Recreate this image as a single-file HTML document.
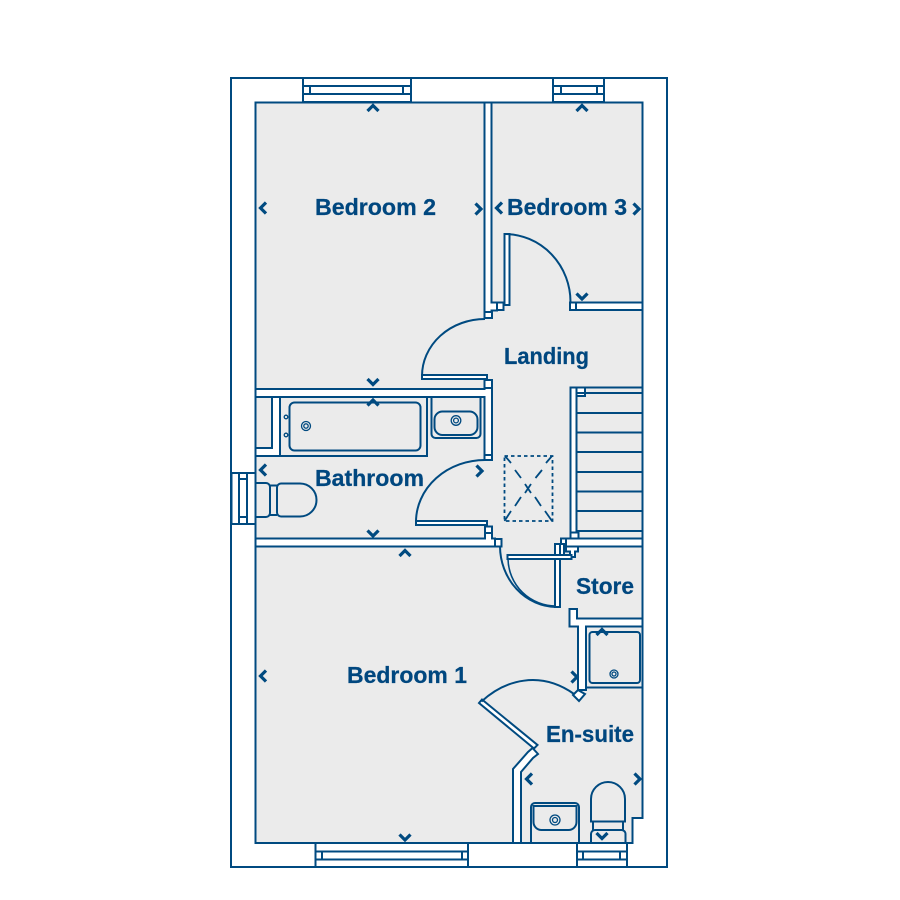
<!DOCTYPE html>
<html><head><meta charset="utf-8"><style>
html,body{margin:0;padding:0;background:#fff}
svg{display:block}
text{font-family:"Liberation Sans",sans-serif;font-weight:bold;font-size:23px;fill:#00477f;stroke:#00477f;stroke-width:.25px}
</style></head><body>
<svg width="900" height="900" viewBox="0 0 900 900" xmlns="http://www.w3.org/2000/svg">
<rect x="231" y="78" width="436" height="789" fill="#fff" stroke="#004a80" stroke-width="2"/>
<path d="M255.5 102.5H642.5V818H632.5V843H255.5Z" fill="#ebebeb" stroke="#004a80" stroke-width="2"/>
<g fill="#fff" stroke="#004a80" stroke-width="2">
<!-- windows -->
<rect x="303" y="78" width="108" height="24"/><rect x="303" y="86" width="108" height="8"/><rect x="310" y="86" width="93" height="8"/>
<rect x="553" y="78" width="51" height="24"/><rect x="553" y="86" width="51" height="8"/><rect x="561" y="86" width="36" height="8"/>
<rect x="315.500" y="843" width="152.500" height="24"/><rect x="315.500" y="851.500" width="152.500" height="8"/><rect x="322" y="851.500" width="140" height="8"/>
<rect x="577" y="843" width="50" height="24"/><rect x="577" y="851.500" width="50" height="8"/><rect x="583" y="851.500" width="37" height="8"/>
<rect x="231.500" y="473" width="24" height="51"/><rect x="239" y="473" width="8" height="51"/><rect x="239" y="479" width="8" height="38"/>
<!-- walls -->
<path d="M484.500 102.500H491.500V302.500H497V310.500H491.500V313H484.500Z"/>
<rect x="484.500" y="312" width="7.500" height="6"/>
<rect x="497" y="302.500" width="6.500" height="7.500"/>
<rect x="504.500" y="234" width="5" height="71"/>
<rect x="570" y="302.500" width="6" height="7.500"/>
<rect x="576" y="302.500" width="66.500" height="7.500"/>
<rect x="422" y="375" width="65" height="4"/>
<rect x="484.500" y="380" width="7.500" height="8"/>
<path d="M255.500 389H484.500V388H492V455H484.500V397H255.500Z"/>
<rect x="484.500" y="455" width="7.500" height="5"/>
<rect x="416" y="521" width="71" height="4"/>
<rect x="485" y="526.500" width="7" height="6.500"/>
<path d="M255.500 538.500H485V533H492V538.500H495V546.500H255.500Z"/>
<rect x="495" y="539" width="6.500" height="7.500"/>
<!-- Bath box -->
<path d="M255.500 397H280V456H255.500V448H272V397Z"/>
<!-- stairs -->
<rect x="570.500" y="387.500" width="6" height="145"/>
<rect x="576.500" y="387.500" width="66" height="5.500" fill="#ebebeb"/>
<rect x="576.500" y="387.500" width="8.500" height="8.500"/>
<rect x="570.500" y="532.500" width="8" height="6"/>
<rect x="561" y="538.500" width="6" height="8"/>
<rect x="566" y="538.500" width="76.500" height="8"/>
<path d="M573 546.500H578V551.500H575V557H570V551.500H566V546.500Z" stroke-width="2"/>
<rect x="558" y="544" width="6" height="14"/>
<!-- store / ensuite walls -->
<rect x="555" y="544" width="5" height="63"/>
<rect x="507.500" y="555" width="64" height="4"/>
<path d="M569.500 609H577V618.500H642.500V626.500H586V690L578 690V626.500H569.500Z"/>
<path d="M573 695L578 690L585 694L579 701Z"/>
<path d="M479 703L482 699.500L537.500 745L534 748.500Z"/>
<path d="M528 752L532.500 748L538 754L533 758L521 772V843H513V769Z"/>
</g>
<g fill="none" stroke="#004a80" stroke-width="2">
<path d="M505 234A66 68 0 0 1 570.500 302.500"/>
<path d="M485 319A63 57 0 0 0 422 376"/>
<path d="M485 460A69 62 0 0 0 416 522"/>
<path d="M500 546.500A57 61 0 0 0 556 607"/>
<path d="M508 559A48 48 0 0 0 556 606" stroke-width="1.600"/>
<path d="M481.500 701.500C505 680 540 670 574 694"/>
<!-- stair treads -->
<path d="M576 393H642M576 413H642M576 432.500H642M576 452H642M576 472H642M576 491.500H642M576 511H642M576 531H642"/>
<!-- bath -->
<path d="M280 397H427V456H280"/>
<rect x="289.500" y="402.500" width="131" height="48" rx="5"/>
<g stroke-width="1.300"><circle cx="306" cy="426" r="4.500"/><circle cx="306" cy="426" r="2.200"/><circle cx="286" cy="417" r="1.800"/><circle cx="286" cy="435" r="1.800"/>
<circle cx="456" cy="420.500" r="4.800"/><circle cx="456" cy="420.500" r="2.400"/>
<circle cx="614" cy="674" r="4"/><circle cx="614" cy="674" r="2"/>
<circle cx="555" cy="820" r="5"/><circle cx="555" cy="820" r="2.500"/></g>
<!-- basin -->
<path d="M431.500 397V434A4 4 0 0 0 435.500 438H476.500A4 4 0 0 0 480.500 434V397M431.500 397H484.500V455"/>
<rect x="434.500" y="411.500" width="43" height="23.500" rx="8"/>
<!-- toilet bathroom -->
<path d="M255.500 483H266A4 4 0 0 1 270 487V513A4 4 0 0 1 266 517H255.500"/>
<path d="M270 485.500H277M270 515H277"/>
<path d="M281 483.500H300A16.500 16.500 0 0 1 300 516.500H281A4 4 0 0 1 277 512.500V487.500A4 4 0 0 1 281 483.500Z"/>
<!-- shower -->
<path d="M586.500 687.500H642"/>
<rect x="589.500" y="632" width="50.500" height="51" rx="3"/>
<!-- ensuite sink -->
<path d="M531 843V807A4 4 0 0 1 535 803H575A4 4 0 0 1 579 807V843"/>
<path d="M533.500 806H576.500V822A8 8 0 0 1 568.500 830H541.500A8 8 0 0 1 533.500 822Z"/>
<!-- ensuite toilet -->
<path d="M591 819V799A17 17 0 0 1 625 799V821.500H591ZM593 821.500V830M623 821.500V830"/>
<path d="M591 843V834A4 4 0 0 1 595 830H621A4 4 0 0 1 625.500 834V843"/>
<!-- skylight -->
<rect x="504.500" y="456" width="48" height="65" stroke-width="1.800" stroke-dasharray="3.500 3"/>
<path d="M505 456L511 463M515 470L521 478M525 484L531 493M535 497L541 506M545 511L552 521M552 456L546 463M542 470L535.500 478M531 484L525 493M521 497L515 506M511 511L504.500 521" stroke-width="1.800"/>
<!-- chevrons -->
<g stroke="#004a80" stroke-width="3.200">
<path d="M367.500 111L373 105.500L378.500 111M367.500 379L373 384.500L378.500 379M367.500 405.500L373 400L378.500 405.500M367.500 530.500L373 536L378.500 530.500"/>
<path d="M399.500 556L405 550.500L410.500 556M399.500 834.500L405 840L410.500 834.500"/>
<path d="M576.500 111L582 105.500L587.500 111M576.500 293.500L582 299L587.500 293.500"/>
<path d="M596.500 635L602 629.500L607.500 635M596.500 833L602 838.500L607.500 833"/>
<path d="M266 202.500L260.500 208L266 213.500M502 202.500L496.500 208L502 213.500M266 464.500L260.500 470L266 475.500M266 670.500L260.500 676L266 681.500M532 773.500L526.500 779L532 784.500"/>
<path d="M475.500 203.500L481 209L475.500 214.500M633.500 203.500L639 209L633.500 214.500M476.500 465.500L482 471L476.500 476.500M571.500 671.500L577 677L571.500 682.500M634.500 773.500L640 779L634.500 784.500"/>
</g>
</g>
<text x="315" y="215" textLength="121" lengthAdjust="spacingAndGlyphs">Bedroom 2</text>
<text x="507" y="215" textLength="120" lengthAdjust="spacingAndGlyphs">Bedroom 3</text>
<text x="504" y="364" textLength="85" lengthAdjust="spacingAndGlyphs">Landing</text>
<text x="315" y="486" textLength="109" lengthAdjust="spacingAndGlyphs">Bathroom</text>
<text x="576" y="594" textLength="58" lengthAdjust="spacingAndGlyphs">Store</text>
<text x="347" y="683" textLength="120" lengthAdjust="spacingAndGlyphs">Bedroom 1</text>
<text x="546" y="742" textLength="88" lengthAdjust="spacingAndGlyphs">En-suite</text>
</svg>
</body></html>
